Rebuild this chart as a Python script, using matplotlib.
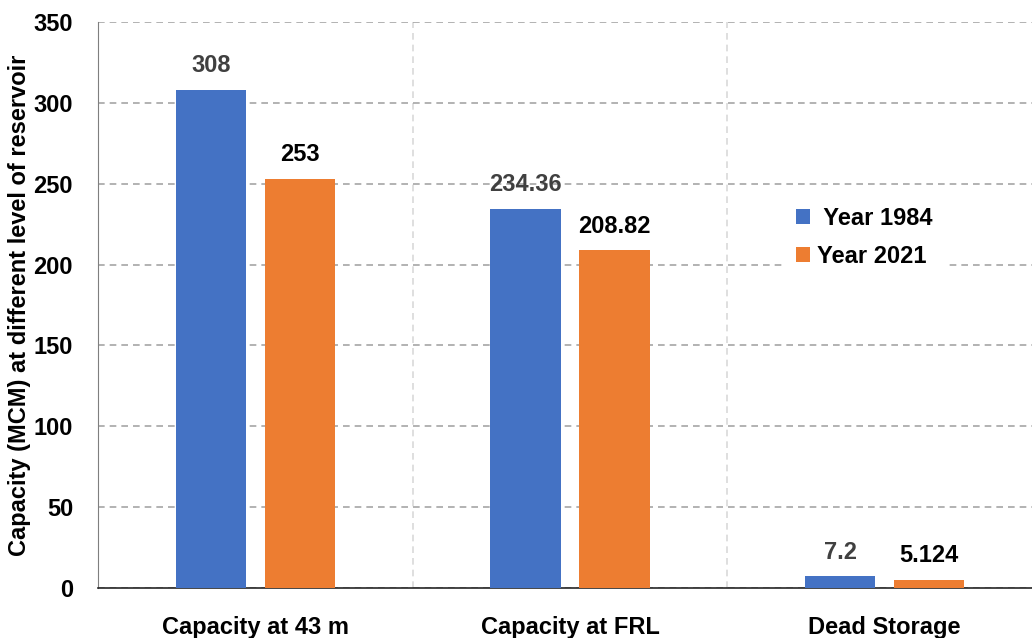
import matplotlib.pyplot as plt
import numpy as np

categories = ["Capacity at 43 m", "Capacity at FRL", "Dead Storage"]
year_1984 = [308, 234.36, 7.2]
year_2021 = [253, 208.82, 5.124]
labels_1984 = ["308", "234.36", "7.2"]
labels_2021 = ["253", "208.82", "5.124"]

plt.rcParams['font.family'] = ['Liberation Sans', 'DejaVu Sans']
plt.rcParams['font.weight'] = 'bold'

fig = plt.figure(figsize=(10.32, 6.38), dpi=100)
# right edge runs past the figure, like the cropped original
ax = fig.add_axes([98 / 1032, 50 / 638, 944 / 1032, 566 / 638])

x = np.arange(len(categories))
w = 0.223
off = 0.1415
b1 = ax.bar(x - off, year_1984, w, color='#4472C4', label=' Year 1984', zorder=3)
b2 = ax.bar(x + off, year_2021, w, color='#ED7D31', label='Year 2021', zorder=3)

for rect, lab in zip(b1, labels_1984):
    ax.text(rect.get_x() + rect.get_width() / 2, rect.get_height() + 15, lab,
            ha='center', va='center', fontsize=17, fontweight='bold', color='#404040')
for rect, lab in zip(b2, labels_2021):
    ax.text(rect.get_x() + rect.get_width() / 2, rect.get_height() + 15, lab,
            ha='center', va='center', fontsize=17, fontweight='bold', color='black')

ax.set_xlim(-0.5, len(categories) - 0.5)
ax.set_ylim(0, 350)
ax.set_yticks(range(0, 351, 50))
ax.set_xticks(x)
ax.set_xticklabels(categories, fontsize=17, fontweight='bold')
ax.tick_params(axis='x', length=0, pad=20)
ax.tick_params(axis='y', length=0, pad=18, labelsize=17)
for t in ax.get_yticklabels():
    t.set_fontweight('bold')

ax.yaxis.grid(True, linestyle=(0, (4, 3)), color='#a6a6a6', linewidth=1.2, zorder=0)
for xb in [0.5, 1.5]:
    ax.axvline(xb, linestyle=(0, (4, 3)), color='#d9d9d9', linewidth=1.2, zorder=0)

ax.spines['top'].set_visible(False)
ax.spines['right'].set_visible(False)
ax.spines['left'].set_color('#7f7f7f')
ax.spines['bottom'].set_color('#262626')
ax.spines['bottom'].set_linewidth(1.2)

ax.set_ylabel("Capacity (MCM) at different level of reservoir", fontsize=17,
              fontweight='bold', labelpad=2)

leg = ax.legend(loc='upper left', bbox_to_anchor=(672 / 944, (588 - 181) / 566),
                fontsize=17, frameon=True, handlelength=0.6, handleheight=0.6,
                handletextpad=0.3, labelspacing=0.65, borderpad=0.6)
leg.get_frame().set_edgecolor('none')
leg.get_frame().set_facecolor('white')
leg.get_frame().set_alpha(1)
for t in leg.get_texts():
    t.set_fontweight('bold')

fig.savefig("out.png", dpi=100)
